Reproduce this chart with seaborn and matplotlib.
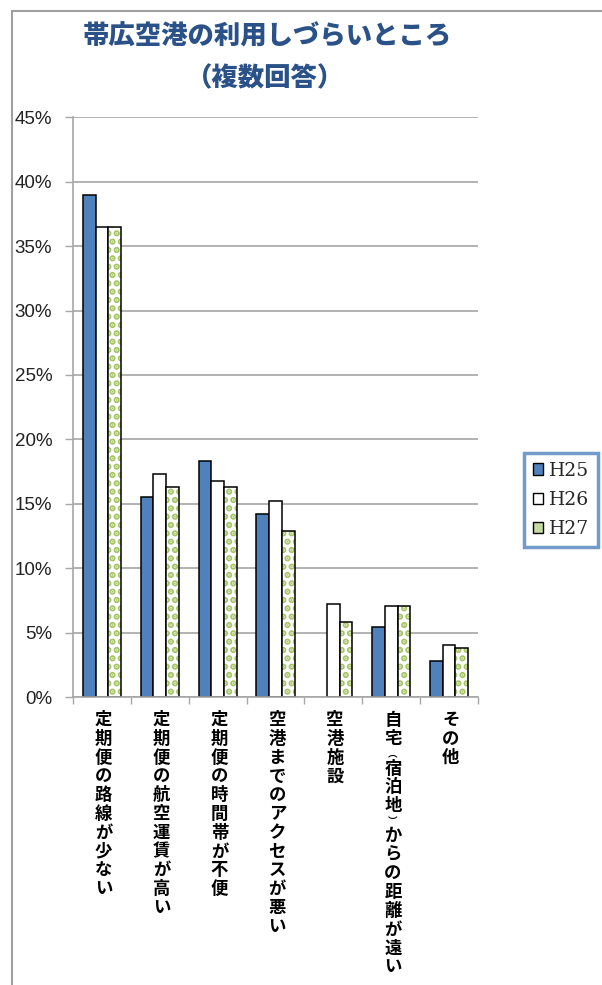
import matplotlib
matplotlib.use("Agg")
import matplotlib.pyplot as plt
import seaborn as sns
import pandas as pd
from matplotlib.patches import Rectangle, Patch
from matplotlib.ticker import FuncFormatter

categories = ["定期便の路線が少ない", "定期便の航空運賃が高い", "定期便の時間帯が不便",
              "空港までのアクセスが悪い", "空港施設", "自宅︵宿泊地︶からの距離が遠い", "その他"]
series_names = ["H25", "H26", "H27"]
h25 = [39.0, 15.5, 18.3, 14.2, 0.0, 5.4, 2.8]
h26 = [36.5, 17.3, 16.8, 15.2, 7.2, 7.1, 4.0]
h27 = [36.5, 16.3, 16.3, 12.9, 5.8, 7.1, 3.8]
yticks = [0, 5, 10, 15, 20, 25, 30, 35, 40, 45]

sns.set_theme(style="white")
plt.rcParams['font.family'] = ['Noto Sans CJK JP', 'DejaVu Sans']
plt.rcParams['hatch.linewidth'] = 3.2

rows = []
for name, vals in zip(series_names, [h25, h26, h27]):
    for c, v in zip(categories, vals):
        rows.append({"cat": c, "series": name, "val": v})
df = pd.DataFrame(rows)

fig = plt.figure(figsize=(6.02, 9.85), dpi=100)
ax = fig.add_axes([73/602, 1-697/985, (478-73)/602, (697-117.3)/985])

palette = {"H25": "#4F81BD", "H26": "#FFFFFF", "H27": "#FFFFFF"}
sns.barplot(data=df, x="cat", y="val", hue="series", order=categories,
            hue_order=series_names, palette=palette, width=0.66,
            edgecolor="black", linewidth=1.1, saturation=1, ax=ax, legend=False)

n = len(categories)
for p in ax.patches[2*n:3*n]:
    p.set_hatch("..")
    p.set_edgecolor("#A5C463")
    p.set_linewidth(0)
    ax.add_patch(Rectangle((p.get_x(), p.get_y()), p.get_width(), p.get_height(),
                           fill=False, edgecolor="black", linewidth=1.1, zorder=p.get_zorder()+0.1))
for p in ax.patches[:3*n]:
    if p.get_height() == 0:
        p.set_linewidth(0)

ax.set_ylim(0, 45)
ax.set_xlim(-0.5, n-0.5)
ax.set_yticks(yticks)
ax.yaxis.set_major_formatter(FuncFormatter(lambda v, pos: f"{int(v)}%"))
ax.grid(axis="y", color="#A6A6A6", linewidth=1.2)
ax.set_axisbelow(True)
for s in ["top", "right"]:
    ax.spines[s].set_visible(False)
for s in ["left", "bottom"]:
    ax.spines[s].set_color("#A6A6A6")
    ax.spines[s].set_linewidth(1.2)
ax.set_xlabel("")
ax.set_ylabel("")

ax.tick_params(axis="y", left=True, length=6, color="#A6A6A6", width=1, pad=9)
for lab in ax.get_yticklabels():
    lab.set_family(['Liberation Sans Narrow', 'Liberation Sans', 'DejaVu Sans'])
    lab.set_fontsize(13.5)
    lab.set_color("#222222")

ax.set_xticks([i - 0.5 for i in range(n + 1)])
ax.set_xticklabels([""] * (n + 1))
ax.tick_params(axis="x", bottom=True, length=5, color="#A6A6A6", width=1)

# vertical (stacked) category labels, one glyph per step
pitch = 18.8
fs = 12.5
for i, c in enumerate(categories):
    y = 14.0
    for ch in c:
        small = ch in "︵︶"
        ax.annotate(ch, xy=(i + 0.03, 0), xycoords=ax.get_xaxis_transform(),
                    xytext=(0, -y * 0.72), textcoords="offset points",
                    ha="center", va="top", fontsize=fs * (0.55 if small else 1.0),
                    fontweight="bold", color="black", annotation_clip=False,
                    family=['Noto Sans CJK JP', 'DejaVu Sans'])
        y += pitch * (0.58 if small else 1.0)

# title
fig.text(267/602, 1-36/985, "帯広空港の利用しづらいところ", ha="center", va="center",
         fontsize=19, fontweight="heavy", color="#2A5288")
fig.text(265/602, 1-78/985, "（複数回答）", ha="center", va="center",
         fontsize=19, fontweight="heavy", color="#2A5288")

# legend
handles = [Patch(facecolor="#4F81BD", edgecolor="black", label="H25"),
           Patch(facecolor="white", edgecolor="black", label="H26"),
           Patch(facecolor="#C5D9A0", edgecolor="black", label="H27")]
leg = fig.legend(handles=handles, loc="center", bbox_to_anchor=(561/602, 1-500/985),
                 frameon=True, fancybox=False, handlelength=0.55, handleheight=0.55,
                 handletextpad=0.3, labelspacing=0.6, borderpad=0.45,
                 prop={"family": ["DejaVu Serif"], "size": 13.5})
leg.get_frame().set_edgecolor("#4F81BD")
leg.get_frame().set_linewidth(2.5)

# outer chart border
fig.add_artist(Rectangle((12/602, -0.05), 1.2, 1-11/985+0.05, transform=fig.transFigure,
                         fill=False, edgecolor="#A0A0A0", linewidth=1.5))

fig.savefig("out.png", dpi=100)
